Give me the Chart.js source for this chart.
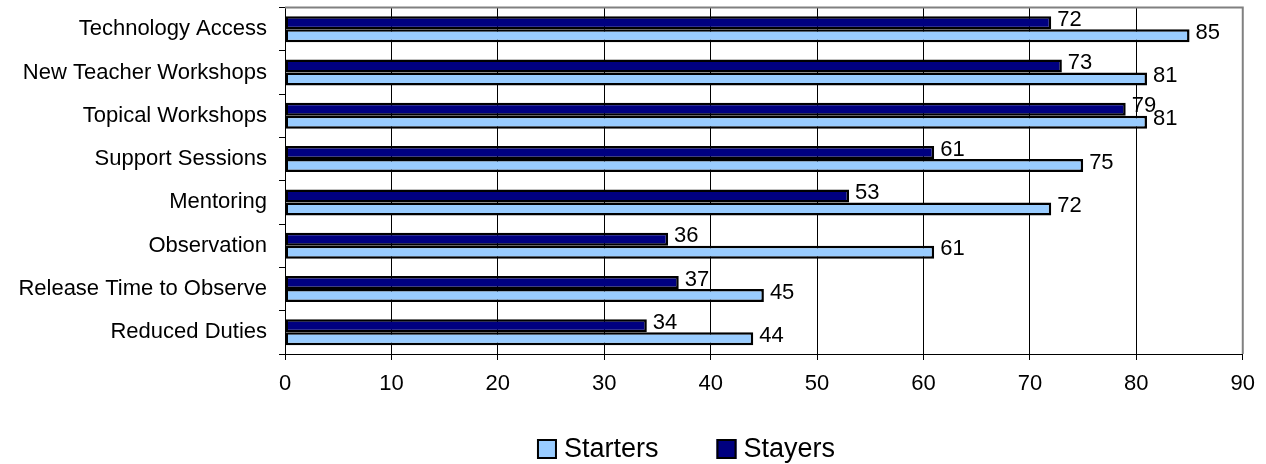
<!DOCTYPE html>
<html lang="en">
<head>
    <meta charset="UTF-8">
    <title>Support Activities - Starters and Stayers</title>
    <style>
        body {
            margin: 0;
            background: #fff;
        }
        #wrap {
            width: 1266px;
            height: 464px;
        }
    </style>
    <script src="https://cdn.jsdelivr.net/npm/chart.js"></script>
</head>
<body>
    <div id="wrap">
        <canvas id="supportChart" width="1266" height="464"></canvas>
    </div>

    <script>
        // Categories, top to bottom
        var categories = [
            'Technology Access',
            'New Teacher Workshops',
            'Topical Workshops',
            'Support Sessions',
            'Mentoring',
            'Observation',
            'Release Time to Observe',
            'Reduced Duties'
        ];
        var stayers = [72, 73, 79, 61, 53, 36, 37, 34];
        var starters = [85, 81, 81, 75, 72, 61, 45, 44];

        // x axis range
        var xMin = 0;
        var xMax = 90;
        var xStep = 10;

        var FONT = 'Arial, "Liberation Sans", sans-serif';

        // gray frame on top / right of the plot area
        var plotFrame = {
            id: 'plotFrame',
            beforeDatasetsDraw: function (chart) {
                var a = chart.chartArea;
                var ctx = chart.ctx;
                ctx.save();
                ctx.strokeStyle = '#808080';
                ctx.lineWidth = 2;
                ctx.beginPath();
                ctx.moveTo(a.left, a.top);
                ctx.lineTo(a.right, a.top);
                ctx.lineTo(a.right, a.bottom);
                ctx.stroke();
                ctx.restore();
            }
        };

        // value labels to the right of each bar (drawn before bars so
        // the lower bar can overlap the label above it)
        var valueLabels = {
            id: 'valueLabels',
            beforeDatasetsDraw: function (chart) {
                var ctx = chart.ctx;
                ctx.save();
                ctx.font = '22px ' + FONT;
                ctx.fillStyle = '#000';
                ctx.textAlign = 'left';
                ctx.textBaseline = 'middle';
                chart.data.datasets.forEach(function (ds, i) {
                    var meta = chart.getDatasetMeta(i);
                    meta.data.forEach(function (bar, j) {
                        ctx.fillText(String(ds.data[j]), bar.x + 6, bar.y - 3);
                    });
                });
                ctx.restore();
            }
        };

        // legend with square swatches, Starters first
        var swatchLegend = {
            id: 'swatchLegend',
            afterDraw: function (chart) {
                var ctx = chart.ctx;
                var items = chart.data.datasets.slice().reverse();
                var box = 20, gap = 7, spacing = 58;
                ctx.save();
                ctx.font = '27px ' + FONT;
                var total = 0;
                items.forEach(function (ds, i) {
                    total += box + gap + ctx.measureText(ds.label).width;
                    if (i < items.length - 1) total += spacing;
                });
                var x = 686 - total / 2;
                var baseline = 457;
                items.forEach(function (ds) {
                    ctx.fillStyle = ds.backgroundColor;
                    ctx.fillRect(x, baseline - 18, box, box);
                    ctx.strokeStyle = '#000';
                    ctx.lineWidth = 2;
                    ctx.strokeRect(x + 1, baseline - 17, box - 2, box - 2);
                    ctx.fillStyle = '#000';
                    ctx.textBaseline = 'alphabetic';
                    ctx.fillText(ds.label, x + box + gap, baseline);
                    x += box + gap + ctx.measureText(ds.label).width + spacing;
                });
                ctx.restore();
            }
        };

        var ctx = document.getElementById('supportChart').getContext('2d');
        var supportChart = new Chart(ctx, {
            type: 'bar',
            data: {
                labels: categories,
                datasets: [
                    {
                        label: 'Stayers',
                        data: stayers,
                        backgroundColor: '#000080',
                        borderColor: '#000',
                        borderWidth: 2.5,
                        borderSkipped: false
                    },
                    {
                        label: 'Starters',
                        data: starters,
                        backgroundColor: '#99CCFF',
                        borderColor: '#000',
                        borderWidth: 2.5,
                        borderSkipped: false
                    }
                ]
            },
            options: {
                indexAxis: 'y',
                responsive: false,
                animation: false,
                devicePixelRatio: 1,
                categoryPercentage: 0.6,
                barPercentage: 1,
                layout: {
                    padding: { top: 7.5, right: 21.5, bottom: 60, left: 0 }
                },
                plugins: {
                    legend: { display: false },
                    tooltip: { enabled: false }
                },
                scales: {
                    x: {
                        min: xMin,
                        max: xMax,
                        ticks: {
                            stepSize: xStep,
                            color: '#000',
                            padding: 11,
                            font: { family: FONT, size: 22 }
                        },
                        grid: { color: '#000', lineWidth: 1, tickLength: 6 },
                        border: { color: '#000', width: 1 },
                        afterFit: function (scale) { scale.height = 50; }
                    },
                    y: {
                        ticks: {
                            color: '#000',
                            padding: 12,
                            font: { family: FONT, size: 22 }
                        },
                        grid: {
                            drawOnChartArea: false,
                            color: '#000',
                            tickLength: 6,
                            offset: true
                        },
                        border: { color: '#000', width: 1 },
                        afterFit: function (scale) {
                            scale.width = 285;
                            // category labels sit inside their bands, no extra room needed
                            scale.paddingTop = 0;
                            scale.paddingBottom = 0;
                        }
                    }
                }
            },
            plugins: [plotFrame, valueLabels, swatchLegend]
        });
    </script>
</body>
</html>
